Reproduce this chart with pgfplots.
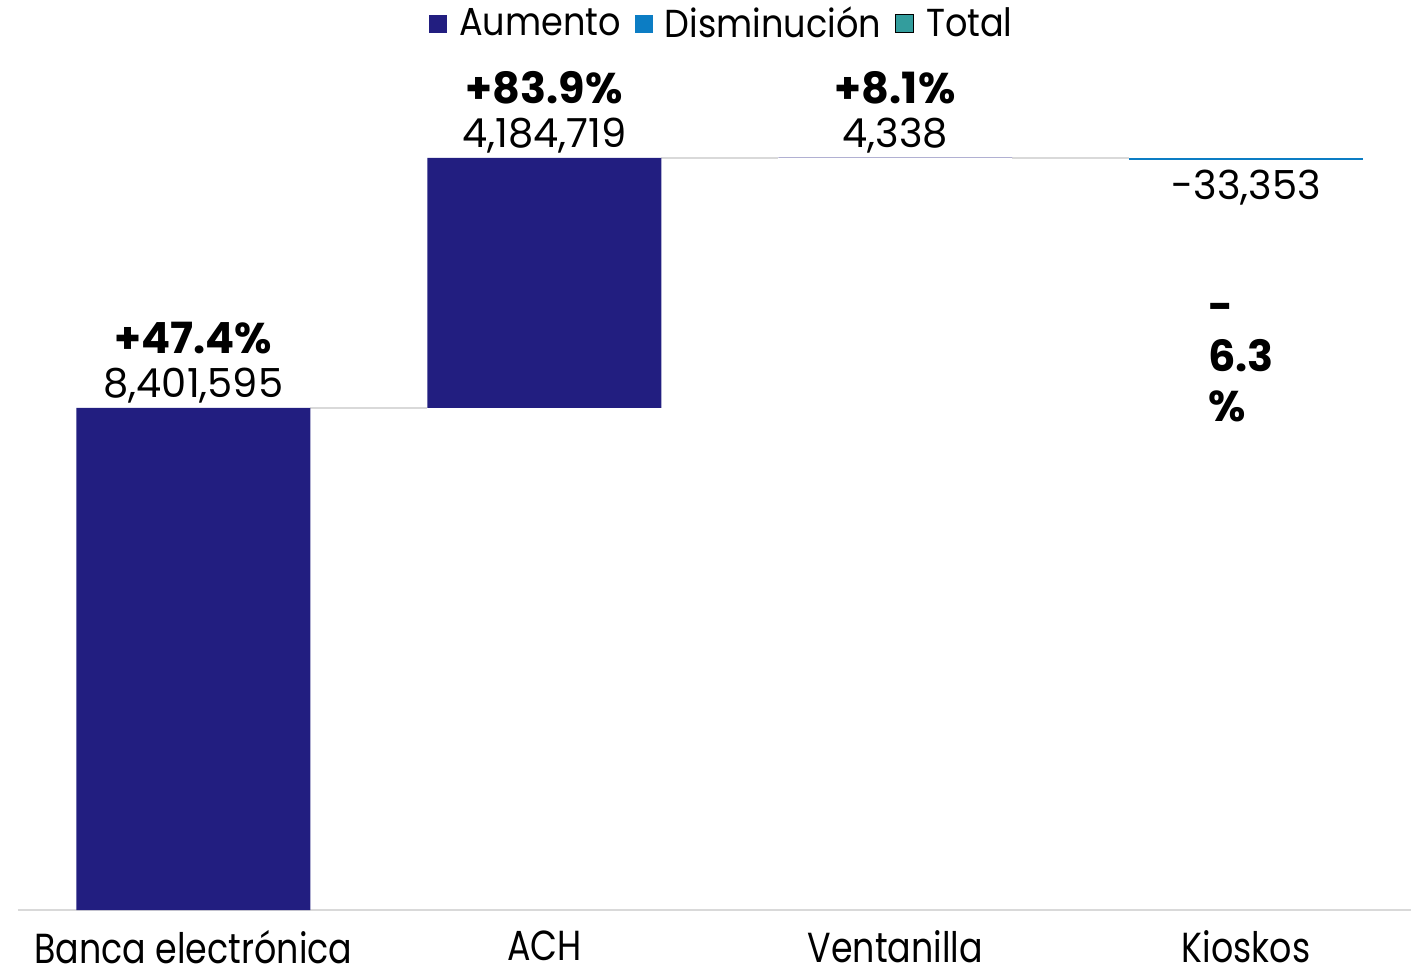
\documentclass[border=0pt]{standalone}
\usepackage{fontspec}
\setmainfont{Poppins}
\usepackage{pgfplots}
\pgfplotsset{compat=1.18}
\definecolor{cUp}{RGB}{34,30,128}
\definecolor{cDown}{RGB}{12,125,196}
\definecolor{cTot}{RGB}{51,157,157}
\definecolor{cGrid}{RGB}{217,217,217}
\pgfplotsset{
  wfbase/.style={
    scale only axis, width=696.5pt, height=455pt,
    xmin=-0.5, xmax=3.47, ymin=0, ymax=15.23e6,
  },
  sqlegend/.style={
    legend image code/.code={\fill[##1] (0pt,-4.5pt) rectangle (9pt,4.5pt);},
  },
}
\newcommand{\tl}[1]{\scalebox{0.83}[1]{#1}}
\newcommand{\lgt}[1]{\scalebox{0.9}[1]{#1}}
\begin{document}
\begin{tikzpicture}
% connectors and value labels (unstacked)
\begin{axis}[wfbase, hide axis, clip=false, point meta=explicit symbolic]
  \addplot[cGrid, line width=1pt] coordinates {(0.3333,8401595) (0.6667,8401595)};
  \addplot[cGrid, line width=1pt] coordinates {(1.3333,12586314) (1.6667,12586314)};
  \addplot[cGrid, line width=1pt] coordinates {(2.3333,12590652) (2.6667,12590652)};
  \addplot[draw=none, mark=none, nodes near coords,
    every node near coord/.append style={font=\fontsize{20}{22}\selectfont,
      align=center, inner sep=0pt, anchor=south, yshift=2pt, text=black}]
    coordinates {
    (0,8401595)[{\fontsize{21.5}{22}\selectfont\textbf{+47.4\%}\\8,401,595}]
    (1,12586314)[{\fontsize{21.5}{22}\selectfont\textbf{+83.9\%}\\4,184,719}]
    (2,12590652)[{\fontsize{21.5}{22}\selectfont\textbf{+8.1\%}\\4,338}]};
  \addplot[draw=none, mark=none, nodes near coords,
    every node near coord/.append style={font=\fontsize{20}{22}\selectfont,
      align=center, inner sep=0pt, anchor=north, yshift=-6pt, text=black}]
    coordinates {
    (3,12590652)[{-33,353\\[39pt]\makebox[38pt][l]{\fontsize{21.5}{22}\selectfont\textbf{-}}\\[3pt]\makebox[38pt][l]{\fontsize{21.5}{22}\selectfont\textbf{6.3}}\\[3pt]\makebox[38pt][l]{\fontsize{21.5}{22}\selectfont\textbf{\%}}}]};
\end{axis}
\begin{axis}[wfbase,
  ybar stacked, bar width=0.6667,
  axis x line*=bottom, axis y line=none,
  axis line style={cGrid, line width=1.2pt, -},
  xtick={0,1,2,3},
  xticklabels={\tl{Banca electrónica}, \tl{ACH}, \tl{Ventanilla}, \tl{Kioskos}},
  major tick length=0pt, ytick=\empty,
  xticklabel style={font=\fontsize{21}{24}\selectfont, inner sep=0pt,
                    anchor=north, yshift=-10pt},
  legend style={at={(0.506,0.974)}, anchor=center, draw=none, fill=none,
                legend columns=-1, font=\fontsize{19.5}{24}\selectfont,
                /tikz/every odd column/.append style={column sep=4pt},
                /tikz/every even column/.append style={column sep=5pt}},
  sqlegend,
  clip=false,
]
  \coordinate (bl) at (rel axis cs:0,0);
  \coordinate (tr) at (rel axis cs:1,1);
  % invisible base of the floating bars
  \addplot[draw=none, fill=none, forget plot] coordinates {
    (0,0) (1,8401595) (2,12586314) (3,12557299)};
  \addplot[fill=cUp, draw=none, sqlegend] coordinates {
    (0,8401595) (1,4184719) (2,4338) (3,0)};
  \addlegendentry{\lgt{Aumento}}
  \addplot[fill=cDown, draw=none, sqlegend] coordinates {
    (0,0) (1,0) (2,0) (3,33353)};
  \addlegendentry{\lgt{Disminución}}
  \addlegendimage{sqlegend, fill=cTot}
  \addlegendentry{\lgt{Total}}
\end{axis}
\pgfresetboundingbox
\useasboundingbox ([xshift=-9pt, yshift=-29.5pt]bl) rectangle (tr);
\end{tikzpicture}
\end{document}
